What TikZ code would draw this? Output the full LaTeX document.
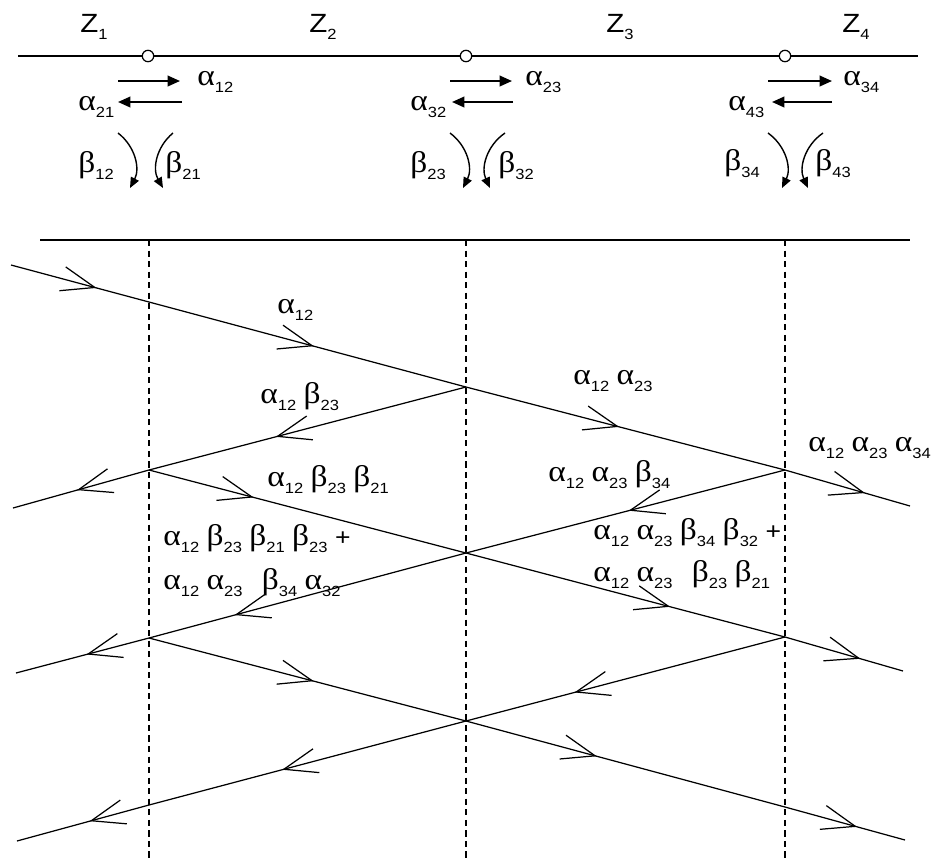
\documentclass[tikz,border=0pt]{standalone}
\usepackage{fontspec}
\setmainfont{Liberation Sans}[FakeStretch=1.12]
\newfontfamily\grkfont{Liberation Serif}[FakeStretch=1.12]
\usetikzlibrary{arrows.meta, decorations.markings, positioning}

\newcommand{\sub}[1]{\raisebox{-4pt}{\fontsize{8.4pt}{9pt}\selectfont #1}}
\newcommand{\alf}[1]{{\grkfont\fontsize{17pt}{18pt}\selectfont α}\sub{#1}}
\newcommand{\bet}[1]{{\grkfont\fontsize{17pt}{18pt}\selectfont β}\sub{#1}}
\newcommand{\zz}[1]{{\fontsize{15pt}{16pt}\selectfont Z}\sub{#1}}

\tikzset{
  wave/.style={line width=0.7pt, postaction={decorate},
    decoration={markings, mark=at position #1 with {\arrow{Straight Barb[length=19pt,width=14pt]}}}},
  lbl/.style={anchor=base west, inner sep=0pt},
}

\begin{document}
\begin{tikzpicture}[x=0.02cm, y=-0.02cm, font=\fontsize{13.5pt}{16pt}\selectfont,
  fwd/.style={line width=1.1pt, -{Triangle[length=7pt,width=6pt]}},
  swing/.style={line width=0.8pt, -{Triangle[length=6pt,width=5pt]}}]
\useasboundingbox (0,0) rectangle (943,860);

% line of junctions
\coordinate (tl) at (18,56); \coordinate (tr) at (918,56);
\draw[line width=0.8pt] (tl) -- (tr);
\foreach \x/\i in {148/1,466/2,785/3}
  \node[circle, draw, fill=white, inner sep=0pt, minimum size=6.5pt, line width=0.7pt] (j\i) at (\x,56) {};
\foreach \x/\i in {80/1,309/2,606/3,842/4} \node[lbl] (z\i) at (\x,32) {\zz{\i}};

\foreach \i/\a/\b/\c/\d in {1/118/180/182/118, 2/450/512/513/452, 3/768/832/832/772} {
  \coordinate (ra\i) at (\a,81); \coordinate (rb\i) at (\b,81);
  \coordinate (la\i) at (\c,102); \coordinate (lb\i) at (\d,102);
  \draw[fwd] (ra\i) -- (rb\i);
  \draw[fwd] (la\i) -- (lb\i);
}
\foreach \i/\a/\b/\c/\d in {1/118/130/173/163, 2/450/463/505/490, 3/768/782/823/808} {
  \coordinate (ca\i) at (\a,133); \coordinate (cb\i) at (\b,188);
  \coordinate (da\i) at (\c,133); \coordinate (db\i) at (\d,188);
  \draw[swing] (ca\i) to[bend left=40] (cb\i);
  \draw[swing] (da\i) to[bend right=40] (db\i);
}
\node[lbl] (t12) at (197,85) {\alf{12}};
\node[lbl] (t21) at (78,110) {\alf{21}};
\node[lbl] (r12) at (78,172) {\bet{12}};
\node[lbl] (r21) at (165,172) {\bet{21}};
\node[lbl] (t23) at (525,85) {\alf{23}};
\node[lbl] (t32) at (410,110) {\alf{32}};
\node[lbl] (r23) at (410,172) {\bet{23}};
\node[lbl] (r32) at (498,172) {\bet{32}};
\node[lbl] (t34) at (843,85) {\alf{34}};
\node[lbl] (t43) at (728,110) {\alf{43}};
\node[lbl] (r34) at (724,170) {\bet{34}};
\node[lbl] (r43) at (815,170) {\bet{43}};

% lattice
\coordinate (hl) at (40,240); \coordinate (hr) at (910,240);
\draw[line width=0.8pt] (hl) -- (hr);
\foreach \x/\i in {149/1,466/2,785/3}
  \draw[line width=0.6pt, dash pattern=on 3.5pt off 2.5pt] (\x,240) coordinate (dt\i) -- (\x,858) coordinate (db\i);

\coordinate (a1) at (149,302); \coordinate (a2) at (149,470);
\coordinate (a3) at (149,638); \coordinate (a4) at (149,805);
\coordinate (b1) at (466,387); \coordinate (b2) at (466,553); \coordinate (b3) at (466,721);
\coordinate (c1) at (785,470); \coordinate (c2) at (785,637); \coordinate (c3) at (785,807);
\coordinate (w0) at (11,265); \coordinate (w1) at (13,508);
\coordinate (w2) at (16,673); \coordinate (w3) at (17,841);
\coordinate (e1) at (910,506); \coordinate (e2) at (903,671); \coordinate (e3) at (905,840);

\draw[wave=0.62] (w0) -- (a1);
\draw[wave=0.52] (a1) -- (b1);
\draw[wave=0.48] (b1) -- (c1);
\draw[wave=0.64] (c1) -- (e1);
\draw[wave=0.60] (b1) -- (a2);
\draw[wave=0.53] (a2) -- (w1);
\draw[wave=0.33] (a2) -- (b2);
\draw[wave=0.64] (b2) -- (c2);
\draw[wave=0.64] (c2) -- (e2);
\draw[wave=0.49] (c1) -- (b2);
\draw[wave=0.73] (b2) -- (a3);
\draw[wave=0.47] (a3) -- (w2);
\draw[wave=0.52] (a3) -- (b3);
\draw[wave=0.41] (b3) -- (c3);
\draw[wave=0.60] (c3) -- (e3);
\draw[wave=0.66] (c2) -- (b3);
\draw[wave=0.58] (b3) -- (a4);
\draw[wave=0.45] (a4) -- (w3);

\node[lbl] (p1) at (277,313) {\alf{12}};
\node[lbl] (p2) at (260,403) {\alf{12} \bet{23}};
\node[lbl] (p3) at (267,486) {\alf{12} \bet{23} \bet{21}};
\node[lbl] (p4) at (573,384) {\alf{12} \alf{23}};
\node[lbl] (p5) at (808,451) {\alf{12} \alf{23} \alf{34}};
\node[lbl] (p6) at (548,481) {\alf{12} \alf{23} \bet{34}};
\node[lbl] (p7) at (163,545) {\alf{12} \bet{23} \bet{21} \bet{23} +};
\node[lbl] (p8) at (163,589) {\alf{12} \alf{23}\hspace{0.5em} \bet{34} \alf{32}};
\node[lbl] (p9) at (593,539) {\alf{12} \alf{23} \bet{34} \bet{32} +};
\node[lbl] (p10) at (593,581) {\alf{12} \alf{23}\hspace{0.5em} \bet{23} \bet{21}};
\end{tikzpicture}
\end{document}
